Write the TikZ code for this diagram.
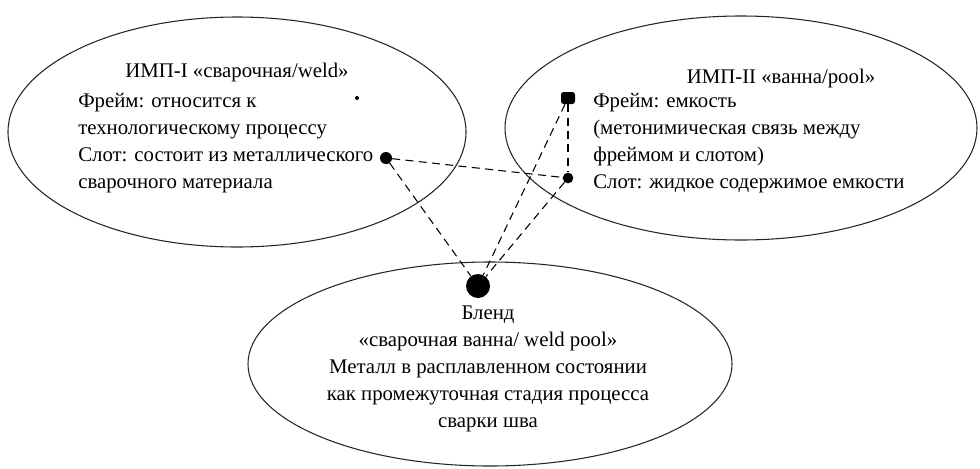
\documentclass[tikz,border=0pt]{standalone}
\usepackage{fontspec}
\setmainfont{Liberation Serif}
\usetikzlibrary{positioning}

\tikzset{
  blob/.style={draw=black!85, line width=0.8pt},
  txt/.style={inner sep=0pt, font=\fontsize{15.6}{20.25}\selectfont},
  dot/.style={circle, fill=black, inner sep=0pt, minimum size=#1},
  link/.style={dash pattern=on 6pt off 4pt, line width=0.8pt},
}

\begin{document}
\begin{tikzpicture}[x=0.75pt, y=-0.75pt]
    \useasboundingbox (0,0) rectangle (980,468);

    % --- LEFT: IMP-I ---
    \draw[blob] (237,132) ellipse (229 and 115);
    \node[txt] (titleI) at (237,72) {ИМП-I «сварочная/weld»};
    \node[txt, align=left, anchor=north west] (bodyI) at (78,93)
        {Фрейм: относится к\\технологическому процессу\\Слот: состоит из металлического\\сварочного материала};

    % --- RIGHT: IMP-II ---
    \draw[blob] (741,128) ellipse (236 and 112);
    \node[txt] (titleII) at (781,78) {ИМП-II «ванна/pool»};
    \node[txt, align=left, anchor=north west] (bodyII) at (593,93)
        {Фрейм: емкость\\(метонимическая связь между\\фреймом и слотом)\\Слот: жидкое содержимое емкости};

    % --- BOTTOM: BLEND ---
    \draw[blob] (490,364) ellipse (242 and 102);
    \node[txt, align=center, anchor=north] (bodyB) at (488,306)
        {Бленд\\«сварочная ванна/ weld pool»\\Металл в расплавленном состоянии\\как промежуточная стадия процесса\\сварки шва};

    % The dots
    \node[dot=3pt] (spot) at (357,98) {};
    \node[dot=9pt] (slotI) at (386,158) {};
    \node[rectangle, rounded corners=2pt, fill=black, inner sep=0pt,
          minimum width=10.5pt, minimum height=9pt] (frameII) at (568,98) {};
    \node[dot=8pt] (slotII) at (568,178) {};
    \node[dot=18pt] (blend) at (478,286) {};

    % Links
    \draw[link] (slotI) -- (slotII);
    \draw[link] (slotI) -- (blend);
    \draw[link] (frameII) -- (slotII);
    \draw[link] (frameII) -- (blend);
    \draw[link] (slotII) -- (blend);
\end{tikzpicture}
\end{document}
